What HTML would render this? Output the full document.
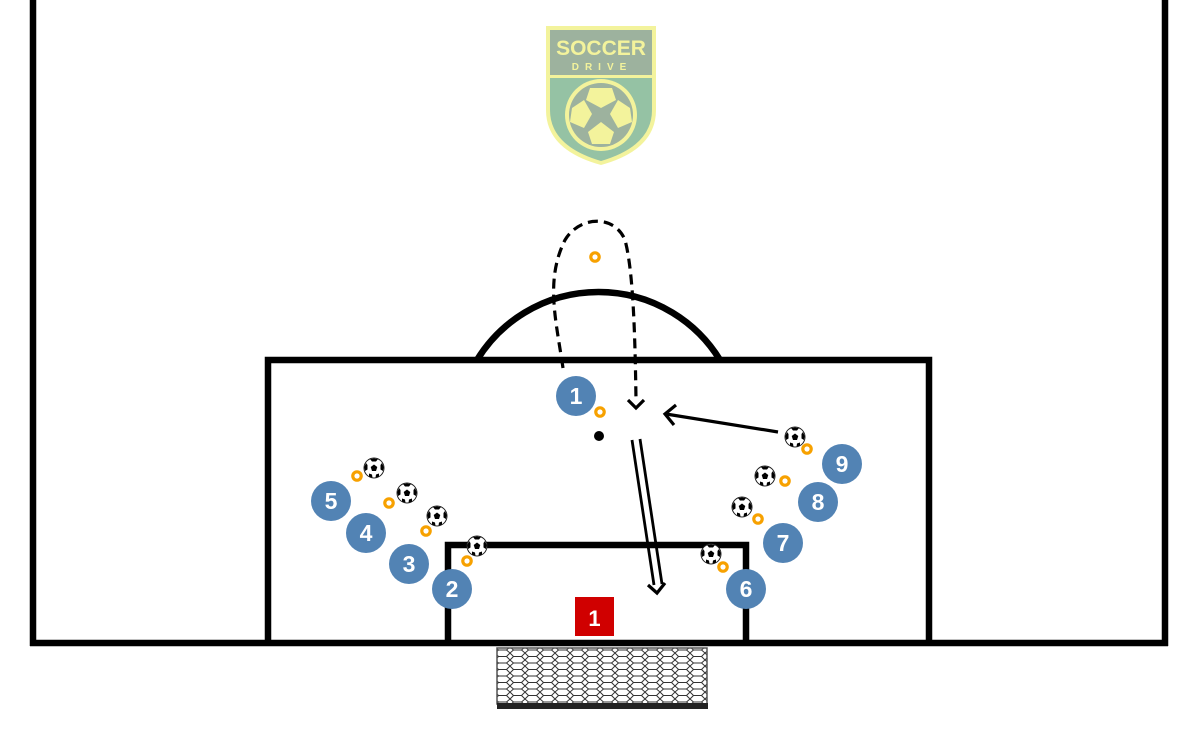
<!DOCTYPE html>
<html><head><meta charset="utf-8"><style>html,body{margin:0;padding:0;background:#fff}svg{display:block}</style></head>
<body>
<svg width="1200" height="750" viewBox="0 0 1200 750" xmlns="http://www.w3.org/2000/svg">
<defs>
<g id="ball">
<circle r="10" fill="#fff" stroke="#222" stroke-width="1"/>
<polygon points="0,-3.5 3.3,-1 2,3 -2,3 -3.3,-1" fill="#000"/>
<path d="M-4,-9 L0,-9.5 L4,-9 L2,-6.5 L-2,-6.5Z" fill="#000"/>
<path d="M8,-5 L9.7,-1 L9,3 L6.5,1.5 L6.5,-3Z" fill="#000"/>
<path d="M-8,-5 L-9.7,-1 L-9,3 L-6.5,1.5 L-6.5,-3Z" fill="#000"/>
<path d="M-5,8.5 L-1.5,9.8 L-2,6.5 L-5,5.5Z" fill="#000"/>
<path d="M5,8.5 L1.5,9.8 L2,6.5 L5,5.5Z" fill="#000"/>
</g>
<g id="cone"><circle r="4.2" fill="none" stroke="#f7a100" stroke-width="3.2"/></g>
<pattern id="net" width="15" height="13" patternUnits="userSpaceOnUse">
<path d="M0,3 L3.5,0 L11.5,0 L15,3 M0,3 L3.5,6.5 L11.5,6.5 L15,3 M3.5,6.5 L0,10 M11.5,6.5 L15,10 M0,10 L3.5,13 M15,10 L11.5,13 M3.5,13 L11.5,13" fill="none" stroke="#333" stroke-width="1"/>
</pattern>
</defs>
<g stroke="#000" stroke-width="6.5" fill="none">
<line x1="33" y1="0" x2="33" y2="646"/>
<line x1="1165" y1="0" x2="1165" y2="646"/>
<line x1="30" y1="643" x2="1168" y2="643"/>
<path d="M268,643 L268,360 L929,360 L929,643"/>
<path d="M448,643 L448,545 L746,545 L746,643"/>
<path d="M477,360 A142.5,142.5 0 0 1 720,360"/>
</g>
<rect x="497" y="648" width="210" height="56" fill="url(#net)" stroke="#555" stroke-width="1.5"/>
<rect x="497" y="703" width="211" height="6" fill="#222"/>
<!-- logo -->
<g opacity="0.6">
<path d="M546,26 L656,26 L656,110 Q656,150 601,165 Q546,150 546,110 Z" fill="#ecec5c"/>
<path d="M550,30 L652,30 L652,110 Q652,146 601,161 Q550,146 550,110 Z" fill="#4f9a68"/>
<rect x="550" y="30" width="102" height="45" fill="#5d7f5f"/>
<rect x="550" y="75" width="102" height="3" fill="#ecec5c"/>
<circle cx="601" cy="115" r="36" fill="#ecec5c"/>
<circle cx="601" cy="115" r="32" fill="#5d7f5f"/>
<g fill="#ecec5c">
<polygon points="590,88 612,88 616,100 601,108 586,100"/>
<polygon points="572,108 584,100 592,114 584,128 570,122"/>
<polygon points="630,108 618,100 610,114 618,128 632,122"/>
<polygon points="588,132 601,122 614,132 610,144 592,144"/>
</g>
<text x="601" y="55" font-family="Liberation Sans, sans-serif" font-weight="bold" font-size="21" fill="#ecec5c" text-anchor="middle">SOCCER</text>
<text x="602" y="70" font-family="Liberation Sans, sans-serif" font-weight="bold" font-size="10" letter-spacing="6" fill="#ecec5c" text-anchor="middle">DRIVE</text>
</g>
<!-- movement paths -->
<path d="M563,368 C556,320 545,280 565,240 C580,215 615,215 625,240 C633,270 635,330 636,400" fill="none" stroke="#000" stroke-width="3.2" stroke-dasharray="10,6"/>
<path d="M628,400 L636,408 L644,400" fill="none" stroke="#000" stroke-width="3.2"/>
<line x1="778" y1="432" x2="666" y2="414" stroke="#000" stroke-width="3.2"/>
<path d="M676,405 L665,414 L674,425" fill="none" stroke="#000" stroke-width="3.2"/>
<line x1="632" y1="440" x2="654" y2="585" stroke="#000" stroke-width="2.8"/>
<line x1="640" y1="439" x2="662" y2="584" stroke="#000" stroke-width="2.8"/>
<path d="M648,585 L657,593 L665,583" fill="none" stroke="#000" stroke-width="3.2"/>
<circle cx="599" cy="436" r="5" fill="#000"/>
<!-- red keeper -->
<rect x="575" y="597" width="39" height="39" fill="#d00000"/>
<text x="594.5" y="626" font-family="Liberation Sans, sans-serif" font-weight="bold" font-size="22" fill="#fff" text-anchor="middle">1</text>
<!-- balls -->
<use href="#ball" x="374" y="468"/><use href="#ball" x="407" y="493"/><use href="#ball" x="437" y="516"/><use href="#ball" x="477" y="546"/>
<use href="#ball" x="711" y="554"/><use href="#ball" x="742" y="507"/><use href="#ball" x="765" y="476"/><use href="#ball" x="795" y="437"/>
<!-- cones -->
<use href="#cone" x="595" y="257"/><use href="#cone" x="600" y="412"/>
<use href="#cone" x="357" y="476"/><use href="#cone" x="389" y="503"/><use href="#cone" x="426" y="531"/><use href="#cone" x="467" y="561"/>
<use href="#cone" x="723" y="567"/><use href="#cone" x="758" y="519"/><use href="#cone" x="785" y="481"/><use href="#cone" x="807" y="449"/>
<!-- players -->
<g fill="#5283b4">
<circle cx="576" cy="396" r="20"/><circle cx="331" cy="501" r="20"/><circle cx="366" cy="533" r="20"/><circle cx="409" cy="564" r="20"/><circle cx="452" cy="589" r="20"/>
<circle cx="746" cy="589" r="20"/><circle cx="783" cy="543" r="20"/><circle cx="818" cy="502" r="20"/><circle cx="842" cy="464" r="20"/>
</g>
<g font-family="Liberation Sans, sans-serif" font-weight="bold" font-size="23" fill="#fff" text-anchor="middle">
<text x="576" y="404">1</text><text x="331" y="509">5</text><text x="366" y="541">4</text><text x="409" y="572">3</text><text x="452" y="597">2</text>
<text x="746" y="597">6</text><text x="783" y="551">7</text><text x="818" y="510">8</text><text x="842" y="472">9</text>
</g>
</svg>
</body></html>
